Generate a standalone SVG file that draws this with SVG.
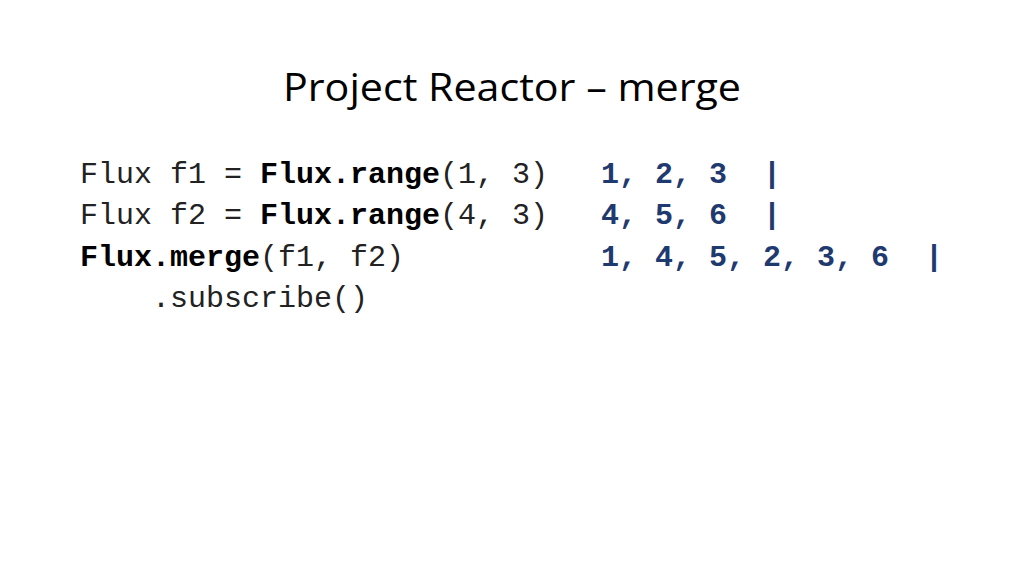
<svg xmlns="http://www.w3.org/2000/svg" width="1024" height="576" viewBox="0 0 1024 576">
<style>
.title{font-family:"Open Sans","Liberation Sans",sans-serif;font-size:38px;fill:#000}
.code{font-family:"Liberation Mono",monospace;font-size:30px;fill:#222;white-space:pre}
.b{font-weight:bold;fill:#000}
.out{font-family:"Liberation Mono",monospace;font-size:30px;font-weight:bold;fill:#1F3A6E;white-space:pre}
</style>
<rect width="1024" height="576" fill="#fff"/>
<g id="title"><text class="title" x="512" y="101" text-anchor="middle" textLength="458" lengthAdjust="spacingAndGlyphs">Project Reactor – merge</text></g>
<g id="code">
<text class="code" x="80" y="183" xml:space="preserve">Flux f1 = <tspan class="b">Flux.range</tspan>(1, 3)</text>
<text class="code" x="80" y="224" xml:space="preserve">Flux f2 = <tspan class="b">Flux.range</tspan>(4, 3)</text>
<text class="code" x="80" y="266" xml:space="preserve"><tspan class="b">Flux.merge</tspan>(f1, f2)</text>
<text class="code" x="80" y="307" xml:space="preserve">    .subscribe()</text>
</g>
<g id="output">
<text class="out" x="601" y="183" xml:space="preserve">1, 2, 3  |</text>
<text class="out" x="601" y="224" xml:space="preserve">4, 5, 6  |</text>
<text class="out" x="601" y="266" xml:space="preserve">1, 4, 5, 2, 3, 6  |</text>
</g>
</svg>
